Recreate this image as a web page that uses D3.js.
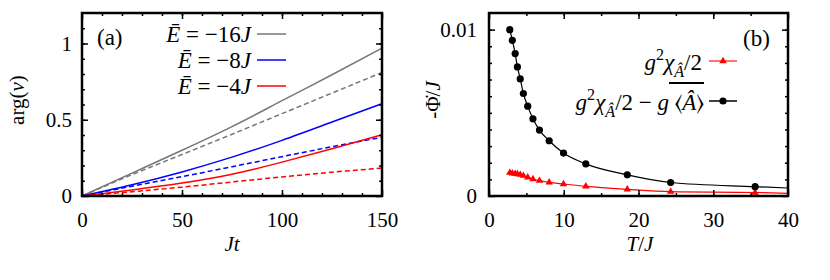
<!DOCTYPE html>
<html>
<head>
<meta charset="utf-8">
<script src="https://cdn.jsdelivr.net/npm/d3@7/dist/d3.min.js"></script>
</head>
<body style="margin:0">
<svg id="fig" width="830" height="280"></svg>
<script>
// ---- panel (a): arg(v) against Jt ----
var jt = [0, 25, 50, 75, 100, 125, 150];
var graySolid = [0, 0.15, 0.30, 0.455, 0.625, 0.795, 0.97];
var grayDash = [0, 0.14, 0.272, 0.405, 0.54, 0.675, 0.81];
var blueSolid = [0, 0.074, 0.158, 0.255, 0.365, 0.485, 0.605];
var blueDash = [0, 0.064, 0.127, 0.192, 0.258, 0.323, 0.385];
var redSolid = [0, 0.04, 0.085, 0.143, 0.222, 0.31, 0.402];
var redDash = [0, 0.028, 0.058, 0.092, 0.125, 0.156, 0.183];
var energyLabels = ["\u221216", "\u22128", "\u22124"];

// ---- panel (b): -dPhi/J against T/J ----
var tj = [2.78, 3.12, 3.5, 3.8, 4.18, 4.6, 5.18, 5.88, 6.75, 8.05, 9.97, 12.95, 18.5, 24.3, 35.6];
var fullPhi = [0.0100, 0.00936, 0.00856, 0.00776, 0.00704, 0.00616, 0.0054, 0.00464, 0.00396, 0.00332, 0.00258, 0.00193, 0.00127, 0.00081, 0.00056];
var chiPhi = [0.0014, 0.00136, 0.00134, 0.00132, 0.00128, 0.00122, 0.00112, 0.00102, 0.00092, 0.00082, 0.00072, 0.00058, 0.0004, 0.00026, 0.00021];
// the curves run on to the right edge of the frame
var tjEnd = 40;
var fullPhiEnd = 0.00048;
var chiPhiEnd = 0.00016;

var FONT = "'Liberation Serif', 'Times New Roman', 'FreeSerif'";
var svg = d3.select("#fig");

function frame(g, x, y, o) {
  var x0 = x.range()[0], x1 = x.range()[1];
  var yb = y.range()[0], yt = y.range()[1];
  var axes = [
    [d3.axisBottom(x).tickValues(o.xMinor).tickSize(-3).tickFormat(""), "translate(0," + yb + ")"],
    [d3.axisTop(x).tickValues(o.xMinor).tickSize(-3).tickFormat(""), "translate(0," + yt + ")"],
    [d3.axisLeft(y).tickValues(o.yMinor).tickSize(-3).tickFormat(""), "translate(" + x0 + ",0)"],
    [d3.axisRight(y).tickValues(o.yMinor).tickSize(-3).tickFormat(""), "translate(" + x1 + ",0)"],
    [d3.axisBottom(x).tickValues(o.xMajor).tickSize(-6).tickPadding(o.xPad).tickFormat(d3.format("")), "translate(0," + yb + ")"],
    [d3.axisTop(x).tickValues(o.xMajor).tickSize(-6).tickFormat(""), "translate(0," + yt + ")"],
    [d3.axisLeft(y).tickValues(o.yMajor).tickSize(-6).tickPadding(o.yPad).tickFormat(d3.format("")), "translate(" + x0 + ",0)"],
    [d3.axisRight(y).tickValues(o.yMajor).tickSize(-6).tickFormat(""), "translate(" + x1 + ",0)"]
  ];
  axes.forEach(function (a) {
    var ax = g.append("g").attr("transform", a[1]).call(a[0]);
    ax.select(".domain").remove();
    ax.attr("font-size", 21).attr("font-family", FONT);
    ax.selectAll("text")
      .attr("font-size", 21).attr("font-family", FONT)
      .style("font-family", FONT).style("font-size", "21px");
    ax.selectAll("line").attr("stroke", "#000").attr("stroke-width", 1.5);
  });
  g.append("rect")
    .attr("x", x0).attr("y", yt)
    .attr("width", x1 - x0).attr("height", yb - yt)
    .attr("fill", "none").attr("stroke", "#000").attr("stroke-width", 2.5);
}

// rich text: parts = [text, italic?, shift]  shift: "sup" | "sub" | undefined
function rich(t, parts, size) {
  var cur = 0;
  t.attr("font-family", FONT).attr("font-size", size)
    .style("font-family", FONT).style("font-size", size + "px");
  parts.forEach(function (p) {
    var target = p[2] === "sup" ? -0.42 * size : p[2] === "sub" ? 0.3 * size : 0;
    var s = t.append("tspan")
      .attr("dy", target - cur)
      .style("font-family", FONT)
      .style("font-size", (p[2] ? size * 0.7 : size) + "px")
      .text(p[0]);
    if (p[1]) s.style("font-style", "italic");
    cur = target;
  });
  return t;
}

// ================= panel (a) =================
var xa = d3.scaleLinear().domain([0, 150]).range([82, 382]);
var ya = d3.scaleLinear().domain([0, 1.2]).range([196, 13]);
var ga = svg.append("g");

var lineA = function (vals) {
  return d3.line()
    .x(function (d, i) { return xa(jt[i]); })
    .y(function (d) { return ya(d); })
    .curve(d3.curveNatural)(vals);
};

var seriesA = [
  { v: grayDash, c: "#777", dash: "5,3" },
  { v: blueDash, c: "#00f", dash: "5,3" },
  { v: redDash, c: "#f00", dash: "5,3" },
  { v: graySolid, c: "#777" },
  { v: blueSolid, c: "#00f" },
  { v: redSolid, c: "#f00" }
];
seriesA.forEach(function (s) {
  ga.append("path")
    .attr("d", lineA(s.v))
    .attr("fill", "none")
    .attr("stroke", s.c)
    .attr("stroke-width", 1.5)
    .attr("stroke-dasharray", s.dash || null);
});

frame(ga, xa, ya, {
  xMajor: [0, 50, 100, 150], xMinor: d3.range(10, 150, 10),
  yMajor: [0, 0.5, 1], yMinor: d3.range(1, 12).map(function (d) { return d / 10; }),
  xPad: 16, yPad: 10
});

// legend (a)
var legColA = ["#777", "#00f", "#f00"];
energyLabels.forEach(function (lab, i) {
  var yy = 34 + i * 26;
  rich(ga.append("text").attr("x", 251).attr("y", yy + 8).attr("text-anchor", "end"),
    [["\u0112", true], [" = " + lab, false], ["J", true]], 23);
  ga.append("line")
    .attr("x1", 257).attr("x2", 286).attr("y1", yy).attr("y2", yy)
    .attr("stroke", legColA[i]).attr("stroke-width", 1.5);
});
rich(ga.append("text").attr("x", 97).attr("y", 45), [["(a)", false]], 23);

// axis titles (a)
rich(ga.append("text").attr("x", 232).attr("y", 251).attr("text-anchor", "middle"),
  [["Jt", true]], 21);
rich(ga.append("text").attr("transform", "translate(24,100) rotate(-90)").attr("text-anchor", "middle"),
  [["arg(", false], ["v", true], [")", false]], 21);

// ================= panel (b) =================
var xb = d3.scaleLinear().domain([0, 40]).range([489, 788]);
var yb = d3.scaleLinear().domain([0, 0.011]).range([196, 13]);
var gb = svg.append("g");

var lineB = d3.line()
  .x(function (d) { return xb(d[0]); })
  .y(function (d) { return yb(d[1]); })
  .curve(d3.curveMonotoneX);

var blackPts = tj.map(function (t, i) { return [t, fullPhi[i]]; });
var redPts = tj.map(function (t, i) { return [t, chiPhi[i]]; });

gb.append("path")
  .attr("d", lineB(blackPts.concat([[tjEnd, fullPhiEnd]])))
  .attr("fill", "none").attr("stroke", "#000").attr("stroke-width", 1.2);
gb.append("path")
  .attr("d", lineB(redPts.concat([[tjEnd, chiPhiEnd]])))
  .attr("fill", "none").attr("stroke", "#f00").attr("stroke-width", 1.2);

var tri = d3.symbol(d3.symbolTriangle).size(24);
gb.selectAll(".tri").data(redPts).enter().append("path")
  .attr("class", "tri")
  .attr("d", tri)
  .attr("transform", function (d) { return "translate(" + xb(d[0]) + "," + yb(d[1]) + ")"; })
  .attr("fill", "#f00");
gb.selectAll(".dot").data(blackPts).enter().append("circle")
  .attr("class", "dot")
  .attr("cx", function (d) { return xb(d[0]); })
  .attr("cy", function (d) { return yb(d[1]); })
  .attr("r", 3.6)
  .attr("fill", "#000");

frame(gb, xb, yb, {
  xMajor: [0, 10, 20, 30, 40], xMinor: d3.range(5, 40, 5),
  yMajor: [0, 0.01], yMinor: d3.range(1, 11).map(function (d) { return d / 1000; }),
  xPad: 16, yPad: 12
});

// legend (b)
rich(gb.append("text").attr("x", 743).attr("y", 46), [["(b)", false]], 23);

var chiParts = [["g", true], ["2", false, "sup"], ["\u03C7", true], ["\u00C2", true, "sub"], ["/2", false]];
rich(gb.append("text").attr("x", 702).attr("y", 70).attr("text-anchor", "end"), chiParts, 23);
gb.append("line").attr("x1", 709).attr("x2", 737).attr("y1", 61).attr("y2", 61)
  .attr("stroke", "#f44").attr("stroke-width", 1.5);
gb.append("path").attr("d", tri).attr("transform", "translate(723,61)").attr("fill", "#f00");

// second row: the averaged part carries an overline
var avgLeft = 669, avgRight = 704;
rich(gb.append("text").attr("x", avgRight).attr("y", 110).attr("text-anchor", "end"),
  [["\u27E8", false], ["\u00C2", true], ["\u27E9", false]], 23);
rich(gb.append("text").attr("x", avgLeft).attr("y", 110).attr("text-anchor", "end"),
  chiParts.concat([[" \u2212 ", false], ["g", true]]), 23);
gb.append("line").attr("x1", avgLeft).attr("x2", avgRight).attr("y1", 83).attr("y2", 83)
  .attr("stroke", "#000").attr("stroke-width", 2);
gb.append("line").attr("x1", 709).attr("x2", 737).attr("y1", 101).attr("y2", 101)
  .attr("stroke", "#000").attr("stroke-width", 1.5);
gb.append("circle").attr("cx", 723).attr("cy", 101).attr("r", 3.6).attr("fill", "#000");

// axis titles (b)
rich(gb.append("text").attr("x", 640).attr("y", 251).attr("text-anchor", "middle"),
  [["T", true], ["/", false], ["J", true]], 21);
rich(gb.append("text").attr("transform", "translate(440,100) rotate(-90)").attr("text-anchor", "middle"),
  [["-\u03A6\u0307/", false], ["J", true]], 21);
</script>
</body>
</html>
